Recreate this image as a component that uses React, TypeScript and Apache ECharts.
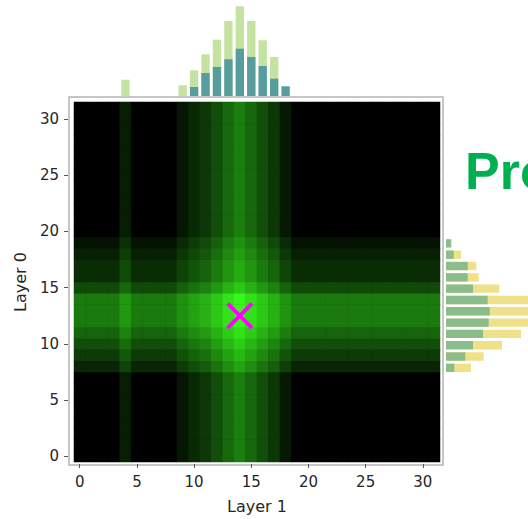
import React, { useEffect, useRef } from "react";
import * as echarts from "echarts";

// categories (cell indices) for both layers
const layerIdx: string[] = Array.from({ length: 32 }, (_, i) => String(i));

// heatmap intensity contributed by each Layer 0 row (index 0 = bottom)
const rowLevel: number[] = [
  0, 0, 0, 0, 0, 0, 0, 0, 38, 58, 78, 100, 122, 122, 122, 74,
  44, 44, 32, 18, 0, 0, 0, 0, 0, 0, 0, 0, 0, 0, 0, 0,
];
// heatmap intensity contributed by each Layer 1 column
const colLevel: number[] = [
  0, 0, 0, 0, 30, 0, 0, 0, 0, 22, 40, 55, 78, 105, 126, 104,
  78, 56, 25, 0, 0, 0, 0, 0, 0, 0, 0, 0, 0, 0, 0, 0,
];

// top histogram (Layer 1)
const topLight: number[] = [
  0, 0, 0, 0, 16.3, 0, 0, 0, 0, 10.7, 25.7, 41.7, 56.3, 75, 89.7, 75,
  55.7, 39, 0, 0, 0, 0, 0, 0, 0, 0, 0, 0, 0, 0, 0, 0,
];
const topTeal: number[] = [
  0, 0, 0, 0, 0, 0, 0, 0, 0, 0, 9, 23, 29, 36.7, 47.3, 39,
  30, 17.3, 9.7, 0, 0, 0, 0, 0, 0, 0, 0, 0, 0, 0, 0, 0,
];

// right histogram (Layer 0)
const rightYellow: number[] = [
  0, 0, 0, 0, 0, 0, 0, 0, 25, 37.7, 56, 75, 104, 110, 106, 53.3,
  32.7, 30.3, 15, 0, 0, 0, 0, 0, 0, 0, 0, 0, 0, 0, 0, 0,
];
const rightGreen: number[] = [
  0, 0, 0, 0, 0, 0, 0, 0, 8.3, 19.3, 27, 37, 42.7, 43.7, 41.7, 27,
  21.7, 21.7, 7.7, 5.3, 0, 0, 0, 0, 0, 0, 0, 0, 0, 0, 0, 0,
];

// marker position [Layer 1, Layer 0]
const markerPoint: number[][] = [[14, 12.6]];

const axisLabelFont = {
  fontFamily: "DejaVu Sans",
  fontSize: 15,
  color: "#262626",
};

export default function App() {
  const ref = useRef<HTMLDivElement>(null);

  useEffect(() => {
    if (!ref.current) return;
    const chart = echarts.init(ref.current, null, { renderer: "svg" });

    const heatData: number[][] = [];
    for (let r = 0; r < rowLevel.length; r++) {
      for (let c = 0; c < colLevel.length; c++) {
        heatData.push([c, r, rowLevel[r] + colLevel[c]]);
      }
    }

    chart.setOption({
      animation: false,
      backgroundColor: "#ffffff",
      grid: [
        { left: 74, top: 102, width: 366, height: 362, show: true, backgroundColor: "#000", borderWidth: 0 },
        { left: 74, top: 102, width: 366, height: 362 },
        { left: 74, top: 0, width: 366, height: 96 },
        { left: 446, top: 102, right: 0, height: 362 },
      ],
      xAxis: [
        {
          type: "category",
          gridIndex: 0,
          data: layerIdx,
          position: "bottom",
          offset: 2,
          axisLine: { show: false },
          axisTick: { show: true, interval: 4, alignWithLabel: true, length: 4, lineStyle: { color: "#555" } },
          axisLabel: { ...axisLabelFont, interval: 4, margin: 10 },
          splitLine: { show: false },
          name: "Layer 1",
          nameLocation: "middle",
          nameGap: 34,
          nameTextStyle: { fontFamily: "DejaVu Sans", fontSize: 16, color: "#262626" },
        },
        { type: "value", gridIndex: 1, min: -0.5, max: 31.5, show: false },
        { type: "category", gridIndex: 2, data: layerIdx, show: false },
        { type: "value", gridIndex: 3, min: 0, max: 82, show: false },
      ],
      yAxis: [
        {
          type: "category",
          gridIndex: 0,
          data: layerIdx,
          position: "left",
          offset: 6,
          axisLine: { show: false },
          axisTick: { show: true, interval: 4, alignWithLabel: true, length: 4, lineStyle: { color: "#555" } },
          axisLabel: { ...axisLabelFont, interval: 4, margin: 9 },
          splitLine: { show: false },
          name: "Layer 0",
          nameLocation: "middle",
          nameGap: 40,
          nameRotate: 90,
          nameTextStyle: { fontFamily: "DejaVu Sans", fontSize: 16, color: "#262626" },
        },
        { type: "value", gridIndex: 1, min: -0.5, max: 31.5, show: false },
        { type: "value", gridIndex: 2, min: 0, max: 96, show: false },
        { type: "category", gridIndex: 3, data: layerIdx, show: false },
      ],
      visualMap: {
        show: false,
        seriesIndex: 0,
        min: 0,
        max: 250,
        dimension: 2,
        inRange: { color: ["#000000", "#37fa1c"] },
      },
      series: [
        {
          type: "heatmap",
          xAxisIndex: 0,
          yAxisIndex: 0,
          data: heatData,
          silent: true,
          itemStyle: { borderWidth: 0 },
          emphasis: { disabled: true },
        },
        {
          type: "scatter",
          xAxisIndex: 1,
          yAxisIndex: 1,
          data: markerPoint,
          silent: true,
          symbol:
            "path://M0,0.1L0.1,0L0.5,0.4L0.9,0L1,0.1L0.6,0.5L1,0.9L0.9,1L0.5,0.6L0.1,1L0,0.9L0.4,0.5Z",
          symbolSize: 27,
          itemStyle: { color: "#ff00ff", opacity: 1 },
          z: 10,
        },
        {
          type: "bar",
          xAxisIndex: 2,
          yAxisIndex: 2,
          data: topLight,
          barGap: "-100%",
          barCategoryGap: "27%",
          silent: true,
          itemStyle: { color: "#c5e3a0" },
        },
        {
          type: "bar",
          xAxisIndex: 2,
          yAxisIndex: 2,
          data: topTeal,
          barGap: "-100%",
          barCategoryGap: "27%",
          silent: true,
          itemStyle: { color: "#579d9e" },
        },
        {
          type: "bar",
          xAxisIndex: 3,
          yAxisIndex: 3,
          data: rightYellow,
          barGap: "-100%",
          barCategoryGap: "26%",
          silent: true,
          itemStyle: { color: "#efe08a" },
        },
        {
          type: "bar",
          xAxisIndex: 3,
          yAxisIndex: 3,
          data: rightGreen,
          barGap: "-100%",
          barCategoryGap: "26%",
          silent: true,
          itemStyle: { color: "#8bbd8b" },
        },
      ],
      graphic: [
        {
          type: "rect",
          shape: { x: 69, y: 97, width: 374, height: 368 },
          style: { fill: "none", stroke: "#b4b4b4", lineWidth: 1.5 },
          z: -1,
          silent: true,
        },
        {
          type: "text",
          x: 465,
          y: 171,
          style: {
            text: "Pro",
            fontFamily: "Liberation Sans",
            fontWeight: "bold",
            fontSize: 52,
            fill: "#00b050",
            verticalAlign: "middle",
          },
          silent: true,
        },
        {
          type: "text",
          x: 130,
          y: -27,
          style: { text: "p", fontFamily: "Liberation Sans", fontSize: 46, fill: "#000", verticalAlign: "middle" },
          silent: true,
        },
        {
          type: "text",
          x: 332,
          y: -27,
          style: { text: "y", fontFamily: "Liberation Sans", fontSize: 46, fill: "#000", verticalAlign: "middle" },
          silent: true,
        },
      ],
    });

    return () => chart.dispose();
  }, []);

  return (
    <div
      ref={ref}
      style={{ position: "fixed", left: 0, top: 0, width: 528, height: 519 }}
    />
  );
}
